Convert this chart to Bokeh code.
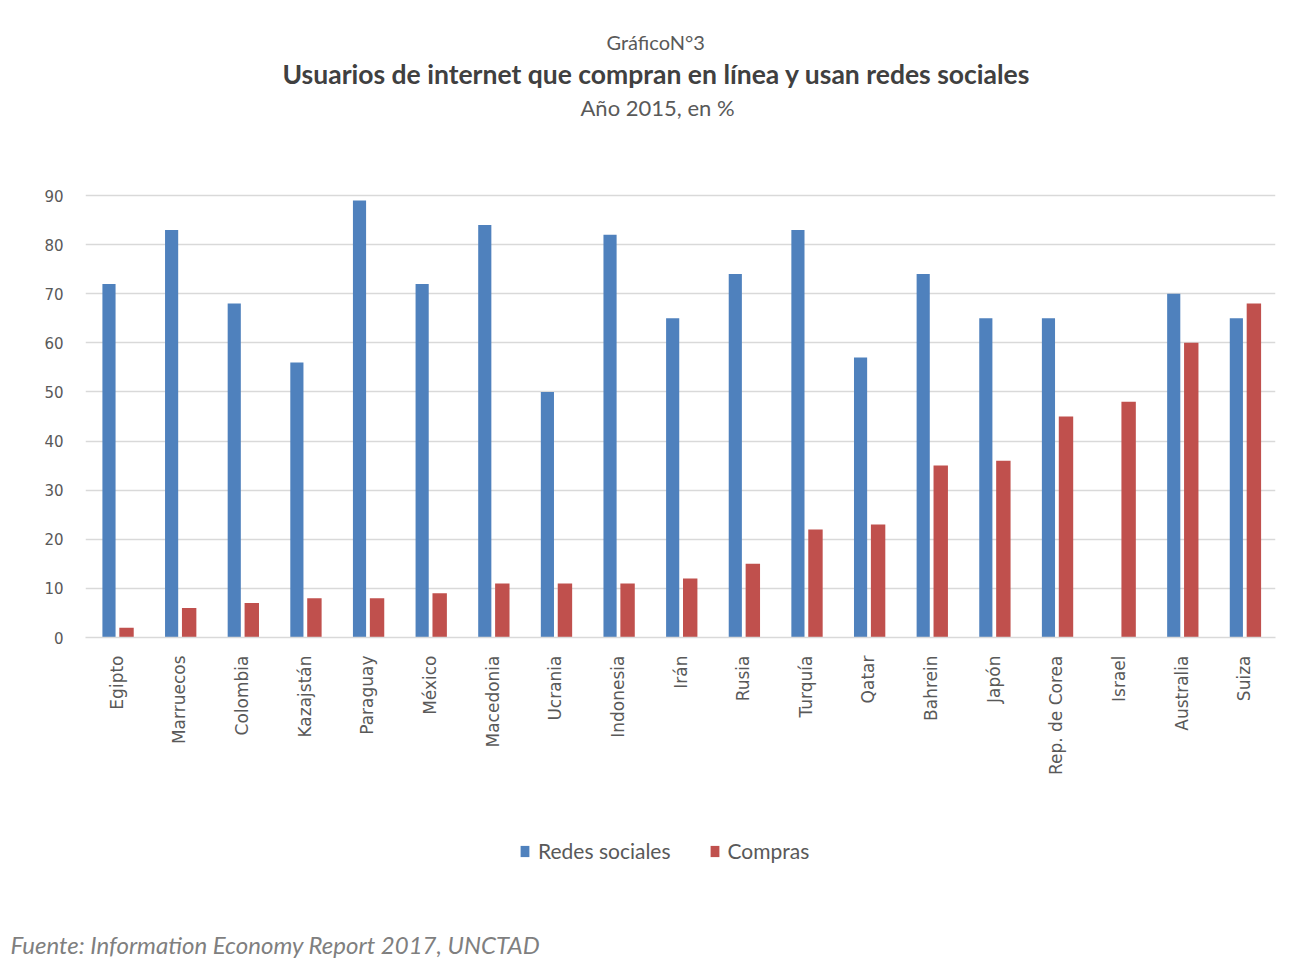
import math
from bokeh.plotting import figure
from bokeh.layouts import column
from bokeh.models import (ColumnDataSource, FactorRange, Range1d, Legend, LegendItem,
                          FixedTicker, Title)
from bokeh.transform import dodge
from bokeh.embed import file_html
from bokeh.resources import INLINE

paises = ["Egipto", "Marruecos", "Colombia", "Kazajstán", "Paraguay", "México", "Macedonia",
          "Ucrania", "Indonesia", "Irán", "Rusia", "Turquía", "Qatar", "Bahrein", "Japón",
          "Rep. de Corea", "Israel", "Australia", "Suiza"]
redes_sociales = [72, 83, 68, 56, 89, 72, 84, 50, 82, 65, 74, 83, 57, 74, 65, 65, float("nan"), 70, 65]
compras = [2, 6, 7, 8, 8, 9, 11, 11, 11, 12, 15, 22, 23, 35, 36, 45, 48, 60, 68]
y_ticks = [0, 10, 20, 30, 40, 50, 60, 70, 80, 90]

titulo_sup = "GráficoN°3"
titulo = "Usuarios de internet que compran en línea y usan redes sociales"
subtitulo = "Año 2015, en %"
fuente = "Fuente: Information Economy Report 2017, UNCTAD"
serie_nombres = ["Redes sociales", "Compras"]

BLUE = "#4F81BD"
RED = "#C0504D"
TXT = "#595959"

src = ColumnDataSource(dict(pais=paises, redes=redes_sociales, compras=compras))

W = 1310
H1, H2 = 800, 158
FL, FR = 85, 1275
GRID_TOP, FB = 195, 637      # pixel rows of the 90 gridline and of 0
FT = 122                     # frame top (blank band above the 90 line)
y_end = 90 * (FB - FT) / (FB - GRID_TOP)

p = figure(width=W, height=H1, x_range=FactorRange(*paises, range_padding=0),
           y_range=Range1d(0, y_end), output_backend="svg", toolbar_location=None,
           min_border_left=FL, min_border_right=W - FR, min_border_top=FT,
           min_border_bottom=H1 - FB)
p.outline_line_color = None
p.background_fill_color = "white"
p.border_fill_color = "white"

r1 = p.vbar(x=dodge("pais", -0.125, range=p.x_range), top="redes", width=0.21,
            source=src, fill_color=BLUE, line_color=None)
r2 = p.vbar(x=dodge("pais", 0.155, range=p.x_range), top="compras", width=0.23,
            source=src, fill_color=RED, line_color=None)

p.xgrid.grid_line_color = None
p.ygrid.grid_line_color = "#d9d9d9"
p.ygrid.grid_line_width = 1.5
p.yaxis.ticker = FixedTicker(ticks=y_ticks)

p.yaxis.axis_line_color = None
p.yaxis.major_tick_line_color = None
p.yaxis.minor_tick_line_color = None
p.yaxis.major_label_standoff = 16
p.yaxis.major_label_text_font = "DejaVu Sans"
p.yaxis.major_label_text_font_size = "15px"
p.yaxis.major_label_text_color = TXT

p.xaxis.axis_line_color = "#d9d9d9"
p.xaxis.axis_line_width = 1.5
p.xaxis.major_tick_line_color = None
p.xaxis.minor_tick_line_color = None
p.xaxis.major_label_orientation = math.pi / 2
p.xaxis.major_label_standoff = 12
p.xaxis.major_label_text_font = "DejaVu Sans"
p.xaxis.major_label_text_font_size = "17px"
p.xaxis.major_label_text_color = TXT

# titles (added nearest-to-frame first), left aligned with offsets from frame left
p.add_layout(Title(text=subtitulo, align="left", offset=495, standoff=4,
                   text_font="Lato", text_font_size="22px", text_font_style="normal",
                   text_color=TXT), "above")
p.add_layout(Title(text=titulo, align="left", offset=197, standoff=0,
                   text_font="Lato", text_font_size="26.5px", text_font_style="bold",
                   text_color="#404040"), "above")
p.add_layout(Title(text=titulo_sup, align="left", offset=521, standoff=4,
                   text_font="Lato", text_font_size="20px", text_font_style="normal",
                   text_color=TXT), "above")

# bottom strip: legend and source note
p2 = figure(width=W, height=H2, x_range=Range1d(0, 1), y_range=Range1d(0, 1),
            output_backend="svg", toolbar_location=None,
            min_border_left=FL, min_border_right=W - FR, min_border_top=0, min_border_bottom=0)
p2.axis.visible = False
p2.grid.visible = False
p2.outline_line_color = None
p2.background_fill_color = "white"
p2.border_fill_color = "white"

key_src = ColumnDataSource(dict(x=[float("nan")], top=[float("nan")]))
k1 = p2.vbar(x="x", top="top", width=1, source=key_src, fill_color=BLUE, line_color=None)
k2 = p2.vbar(x="x", top="top", width=1, source=key_src, fill_color=RED, line_color=None)

legend = Legend(items=[LegendItem(label=serie_nombres[0], renderers=[k1]),
                       LegendItem(label=serie_nombres[1], renderers=[k2])],
                orientation="horizontal", location=(434, 64),
                label_text_font="Lato", label_text_font_size="21px",
                label_text_color=TXT, glyph_width=11, glyph_height=14,
                label_standoff=8, spacing=38, padding=4,
                border_line_color=None, background_fill_alpha=0)
p2.add_layout(legend, "center")

p2.add_layout(Title(text=fuente, align="left", offset=-75, standoff=0,
                    text_font="Lato", text_font_size="24px", text_font_style="italic",
                    text_color="#7f7f7f"), "below")

open("out.html", "w").write(file_html(column(p, p2, spacing=0), INLINE))
